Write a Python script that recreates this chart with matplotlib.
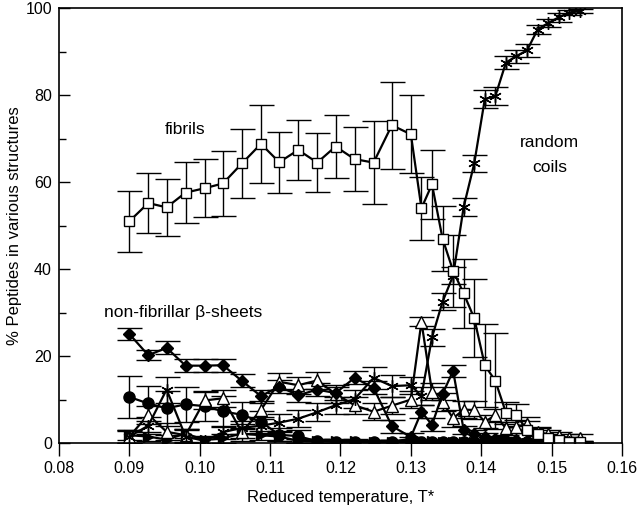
import numpy as np
import matplotlib
matplotlib.use("Agg")
import matplotlib.pyplot as plt
from matplotlib.ticker import MultipleLocator

plt.rcParams['font.family'] = ['Liberation Sans', 'DejaVu Sans']

# reduced temperature grid
temps = [0.0900, 0.0927, 0.0953, 0.0980, 0.1007, 0.1033, 0.1060, 0.1087,
         0.1113, 0.1140, 0.1167, 0.1193, 0.1220, 0.1247, 0.1273, 0.1300,
         0.1315, 0.1330, 0.1345, 0.1360, 0.1375, 0.1390, 0.1405, 0.1420,
         0.1435, 0.1450, 0.1465, 0.1480, 0.1495, 0.1510, 0.1525, 0.1540]

fibrils = [51.0, 55.2, 54.2, 57.6, 58.6, 59.7, 64.3, 68.8, 64.6, 67.4, 64.5, 68.2,
           65.3, 64.5, 73.1, 71.0, 54.0, 59.5, 47.0, 39.6, 34.4, 28.7, 17.9, 14.3,
           7.0, 6.4, 3.0, 2.0, 1.2, 0.6, 0.3, 0.2]
fibrils_err = [7.0, 7.0, 6.5, 7.0, 6.7, 7.5, 8.0, 9.0, 7.0, 7.0, 6.7, 7.2,
               7.3, 9.5, 10.0, 9.0, 7.2, 8.0, 7.5, 8.2, 8.0, 9.0, 9.5, 11.0,
               2.5, 2.5, 2.0, 1.5, 1.0, 0.5, 0.3, 0.2]

coils = [1.5, 4.0, 12.3, 1.5, 0.5, 2.5, 3.5, 4.0, 4.7, 5.6, 7.1, 8.7,
         10.1, 15.0, 13.1, 13.3, 10.8, 24.3, 32.5, 38.5, 54.3, 64.3, 79.1, 79.8,
         87.5, 89.0, 90.3, 95.1, 96.6, 97.9, 99.0, 99.3]
coils_err = [1.5, 2.0, 3.0, 1.5, 1.0, 1.5, 1.5, 2.0, 2.0, 2.0, 2.0, 2.0,
             2.0, 2.5, 2.5, 2.0, 2.0, 2.0, 2.0, 2.0, 2.0, 2.0, 2.0, 2.0,
             1.5, 1.5, 1.5, 1.0, 1.0, 1.0, 0.5, 0.5]

diamonds = [25.1, 20.2, 21.9, 17.8, 17.8, 17.9, 14.3, 10.8, 13.0, 11.0, 12.3, 11.5,
            15.0, 12.7, 3.9, 1.4, 7.2, 4.2, 11.3, 16.6, 3.0, 2.0, 1.5, 1.0,
            0.8, 0.6, 0.5, 0.4, 0.3, 0.2, 0.2, 0.1]
diamonds_err = [1.3, 1.2, 1.5, 1.5, 1.5, 1.5, 1.5, 1.5, 1.5, 1.5, 1.5, 1.5,
                1.5, 1.5, 1.5, 1.0, 1.5, 1.5, 1.5, 1.4, 1.0, 1.0, 0.8, 0.6,
                0.5, 0.4, 0.4, 0.3, 0.3, 0.2, 0.2, 0.1]

circles = [10.6, 9.1, 8.0, 8.9, 8.5, 7.3, 6.5, 4.9, 1.9, 1.6, 0.4, 0.3,
           0.3, 0.3, 0.3, 0.2, 0.3, 0.3, 0.3, 0.3, 0.3, 0.2, 0.2, 0.2,
           0.2, 0.2, 0.2, 0.2, 0.1, 0.1, 0.1, 0.1]
circles_err = [4.8, 4.0, 4.0, 4.0, 3.5, 3.5, 3.0, 2.5, 1.5, 1.5, 0.5, 0.5,
               0.5, 0.5, 0.5, 0.4, 0.4, 0.4, 0.4, 0.4, 0.3, 0.3, 0.3, 0.3,
               0.3, 0.3, 0.3, 0.2, 0.2, 0.2, 0.2, 0.2]

triangles = [1.5, 6.5, 2.6, 1.8, 9.8, 10.3, 2.5, 7.6, 14.1, 13.3, 14.4, 11.3,
             8.7, 7.2, 8.6, 10.0, 27.9, 11.8, 9.4, 5.7, 7.7, 7.6, 4.9, 6.4,
             3.4, 3.8, 4.4, 2.6, 2.0, 1.6, 1.2, 1.2]
triangles_err = [1.5, 2.0, 2.0, 1.5, 2.0, 2.0, 2.0, 2.0, 2.0, 2.0, 2.0, 2.0,
                 2.0, 2.0, 2.0, 2.0, 1.0, 2.0, 2.0, 2.0, 2.0, 2.0, 1.5, 1.5,
                 1.5, 1.5, 1.5, 1.0, 1.0, 1.0, 0.8, 0.8]

rtriangles = [1.8, 1.5, 0.8, 2.2, 0.7, 1.1, 2.2, 1.8, 1.5, 0.5, 0.5, 0.4,
              0.4, 0.3, 0.3, 1.0, 0.5, 0.4, 0.3, 0.3, 0.3, 0.3, 0.2, 0.2,
              0.2, 0.2, 0.1, 0.1, 0.1, 0.1, 0.1, 0.1]
rtriangles_err = [1.0, 1.0, 1.0, 1.0, 1.0, 1.0, 1.0, 1.0, 1.0, 0.5, 0.5, 0.5,
                  0.5, 0.5, 0.5, 0.5, 0.5, 0.4, 0.3, 0.3, 0.3, 0.3, 0.2, 0.2,
                  0.2, 0.2, 0.1, 0.1, 0.1, 0.1, 0.1, 0.1]

fig = plt.figure(figsize=(6.4, 5.14), dpi=100)
ax = fig.add_axes([0.092, 0.138, 0.880, 0.846])

common = dict(color='black', lw=1.6, ecolor='black', elinewidth=1.0,
              capsize=9, capthick=1.0)

# non-fibrillar beta-sheet series
ax.errorbar(temps, rtriangles, yerr=rtriangles_err, marker='>', ms=7,
            mfc='black', mec='black', **common)
ax.errorbar(temps, circles, yerr=circles_err, marker='o', ms=8,
            mfc='black', mec='black', **common)
ax.errorbar(temps, triangles, yerr=triangles_err, marker='^', ms=8,
            mfc='white', mec='black', mew=1.0, **common)
ax.errorbar(temps, diamonds, yerr=diamonds_err, marker='D', ms=6.5,
            mfc='black', mec='black', **common)

# random coils
ax.errorbar(temps, coils, yerr=coils_err, marker=(6, 2, 0), ms=9,
            mec='black', mew=1.0, **common)

# fibrils
ax.errorbar(temps, fibrils, yerr=fibrils_err, marker='s', ms=7,
            mfc='white', mec='black', mew=1.0, **common)

ax.text(0.0979, 72, 'fibrils', ha='center', va='center', fontsize=12.5)
ax.text(0.1497, 69.2, 'random', ha='center', va='center', fontsize=12.5)
ax.text(0.1497, 63.4, 'coils', ha='center', va='center', fontsize=12.5)
ax.text(0.0976, 30.1, 'non-fibrillar β-sheets', ha='center', va='center', fontsize=12.5)

ax.set_xlim(0.08, 0.16)
ax.set_ylim(0, 100)
ax.set_xticks(np.arange(0.08, 0.1601, 0.01))
ax.set_xticklabels(['0.08', '0.09', '0.10', '0.11', '0.12', '0.13', '0.14', '0.15', '0.16'])
ax.set_yticks(np.arange(0, 101, 20))
ax.yaxis.set_minor_locator(MultipleLocator(10))
ax.tick_params(axis='x', direction='out', length=9, width=1, labelsize=11.5, pad=4)
ax.tick_params(axis='y', which='major', direction='in', length=8, width=1,
               labelsize=11.5, pad=5)
ax.tick_params(axis='y', which='minor', direction='in', length=5, width=1)
ax.set_xlabel('Reduced temperature, T*', fontsize=12, labelpad=10)
ax.set_ylabel('% Peptides in various structures', fontsize=12)
ax.yaxis.set_label_coords(-0.066, 0.5)
for s in ax.spines.values():
    s.set_linewidth(1.2)

fig.savefig('out.png', dpi=100)
